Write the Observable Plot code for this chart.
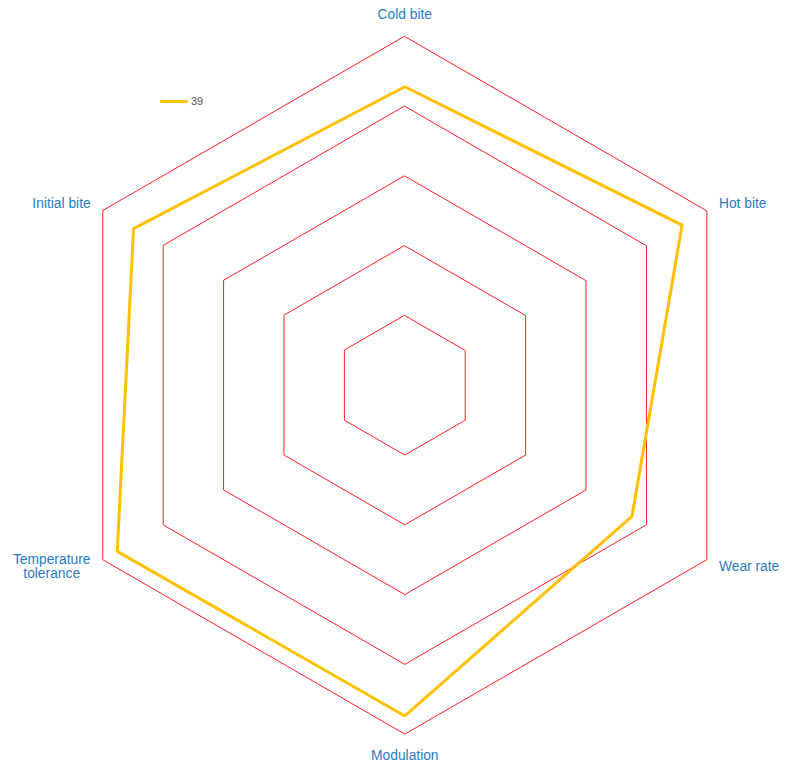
<!DOCTYPE html>
<html>
<head>
<meta charset="utf-8">
<script src="https://cdn.jsdelivr.net/npm/d3@7"></script>
<script src="https://cdn.jsdelivr.net/npm/@observablehq/plot@0.6"></script>
<style>
  body { margin: 0; background: #fff; font-family: "Liberation Sans", Arial, sans-serif; }
  #wrap { position: relative; width: 795px; height: 765px; }
  #legend { position: absolute; left: 160px; top: 95px; display: flex; align-items: center; font-size: 11px; color: #595959; font-family: "Liberation Sans", Arial, sans-serif; }
  #legend .sw { width: 28px; height: 3px; background: #ffc000; border-radius: 2px; margin-right: 3px; }
</style>
</head>
<body>
<div id="wrap">
  <div id="chart"></div>
  <div id="legend"><span class="sw"></span><span>39</span></div>
</div>
<script>
const axes = ["Cold bite", "Hot bite", "Wear rate", "Modulation", "Temperature tolerance", "Initial bite"];
const values = [4.28, 4.59, 3.76, 4.74, 4.76, 4.49];
const seriesName = "39";
const ringLevels = [1, 2, 3, 4, 5];

const n = axes.length;
const ang = i => Math.PI / 2 - i * 2 * Math.PI / n;
const px = (i, r) => r * Math.cos(ang(i));
const py = (i, r) => r * Math.sin(ang(i));

const rings = ringLevels.flatMap(level => axes.map((a, i) => ({level, i})));
const series = axes.map((a, i) => ({axis: a, i, v: values[i]}));
const labelR = 5.2;
const labels = axes.map((a, i) => ({label: a, i}));
const isTop = d => Math.abs(px(d.i, 1)) < 1e-6 && py(d.i, 1) > 0;
const isBottom = d => Math.abs(px(d.i, 1)) < 1e-6 && py(d.i, 1) < 0;
const isRight = d => px(d.i, 1) > 1e-6;
const isLeft = d => px(d.i, 1) < -1e-6;
const isWrapped = d => d.label.indexOf(" ") >= 0 && d.label.length > 14;

const font = {fontSize: 13.8, fill: "#2b7bc4", fontFamily: "Liberation Sans, Arial, sans-serif"};

const chart = Plot.plot({
  width: 795,
  height: 765,
  margin: 0,
  x: {domain: [-5.796, 5.601], range: [0, 795], axis: null},
  y: {domain: [-5.45, 5.516], range: [765, 0], axis: null},
  style: {background: "white"},
  marks: [
    Plot.line(rings, {x: d => px(d.i, d.level), y: d => py(d.i, d.level), z: "level", curve: "linear-closed", stroke: "#ff1f1f", strokeWidth: 1}),
    Plot.line(series, {x: d => px(d.i, d.v), y: d => py(d.i, d.v), curve: "linear-closed", stroke: "#ffc000", strokeWidth: 3, strokeLinejoin: "miter"}),
    Plot.text(labels.filter(isTop), {x: d => px(d.i, labelR), y: d => py(d.i, labelR), text: "label", textAnchor: "middle", dy: -8, ...font}),
    Plot.text(labels.filter(isBottom), {x: d => px(d.i, labelR), y: d => py(d.i, labelR), text: "label", textAnchor: "middle", dy: 8, ...font}),
    Plot.text(labels.filter(isRight), {x: d => px(d.i, labelR), y: d => py(d.i, labelR), text: "label", textAnchor: "start", ...font}),
    Plot.text(labels.filter(d => isLeft(d) && isWrapped(d)), {x: d => px(d.i, labelR), y: d => py(d.i, labelR), text: d => d.label.replace(" ", "\n"), textAnchor: "middle", dx: -39, lineHeight: 1.04, ...font}),
    Plot.text(labels.filter(d => isLeft(d) && !isWrapped(d)), {x: d => px(d.i, labelR), y: d => py(d.i, labelR), text: "label", textAnchor: "end", ...font})
  ]
});
document.getElementById("chart").appendChild(chart);
</script>
</body>
</html>
